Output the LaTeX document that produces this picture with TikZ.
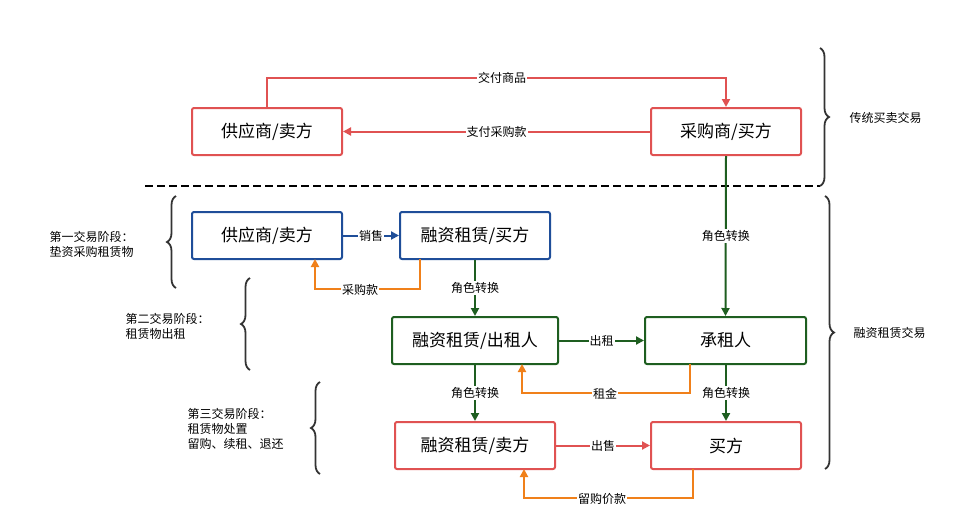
\documentclass[tikz,border=0pt]{standalone}
\usepackage{fontspec}
\setmainfont{Noto Sans CJK SC}
\usetikzlibrary{arrows.meta,decorations.pathreplacing}
\definecolor{cred}{HTML}{E05252}
\definecolor{cblue}{HTML}{1F4E99}
\definecolor{cgreen}{HTML}{1E5E20}
\definecolor{corange}{HTML}{F0801A}
\begin{document}
\begin{tikzpicture}[x=1pt,y=-1pt,
 box/.style={draw=#1,line width=2pt,rounded corners=2pt,minimum height=47pt,font=\fontsize{17}{20}\selectfont,inner sep=0pt},
 lab/.style={fill=white,font=\fontsize{12}{14}\selectfont,inner sep=1pt},
 txt/.style={font=\fontsize{12}{15}\selectfont,align=left,anchor=west},
 arr/.style={draw=#1,line width=2pt,-{Triangle[length=8pt,width=8pt]}},
 br/.style={decorate,decoration={brace,amplitude=9pt},line width=1.8pt,draw=black!80}]
\useasboundingbox (0,0) rectangle (978,531);
\node[box=cred,minimum width=150pt] (s1) at (267,131.5) {供应商/卖方};
\node[box=cred,minimum width=150pt] (b1) at (726,131.5) {采购商/买方};
\draw[arr=cred] (s1.north) -- (267,78) -- (726,78) -- (b1.north);
\node[lab] at (502,78) {交付商品};
\draw[arr=cred] (b1.west) -- node[lab] {支付采购款} (s1.east);
\draw[line width=2pt,dash pattern=on 8pt off 4pt] (145,186) -- (820,186);
\draw[br] (820,48) -- (820,186);
\node[txt] (t0) at (846,118) {传统买卖交易};
\node[box=cblue,minimum width=150pt] (s2) at (267,235.5) {供应商/卖方};
\node[box=cblue,minimum width=150pt] (fb) at (475,235.5) {融资租赁/买方};
\draw[arr=cblue] (s2.east) -- node[lab] {销售} (fb.west);
\draw[arr=corange] (420,259) -- (420,289) -- (315,289) -- (315,259);
\node[lab] at (360,290) {采购款};
\node[box=cgreen,minimum width=166pt] (fl) at (475,340.5) {融资租赁/出租人};
\node[box=cgreen,minimum width=161pt] (le) at (725.5,340.5) {承租人};
\draw[arr=cgreen] (fb.south) -- node[lab] {角色转换} (fl.north);
\draw[arr=cgreen] (b1.south) -- node[lab] {角色转换} (le.north);
\draw[arr=cgreen] (fl.east) -- node[lab] {出租} (le.west);
\draw[arr=corange] (690,364) -- (690,393) -- (522,393) -- (522,364);
\node[lab] at (605,394) {租金};
\node[box=cred,minimum width=160pt] (fs) at (475,445.5) {融资租赁/卖方};
\node[box=cred,minimum width=150pt] (b2) at (726,445.5) {买方};
\draw[arr=cgreen] (fl.south) -- node[lab] {角色转换} (fs.north);
\draw[arr=cgreen] (le.south -| b2.north) -- node[lab] {角色转换} (b2.north);
\draw[arr=cred] (fs.east) -- node[lab] {出售} (b2.west);
\draw[arr=corange] (693,469) -- (693,498) -- (524,498) -- (524,469);
\node[lab] at (602,499) {留购价款};
\draw[br] (825,196) -- (825,469);
\node[txt] at (850,333) {融资租赁交易};
\draw[br] (176,288) -- (176,196);
\node[txt] at (46,244) {第一交易阶段：\\垫资采购租赁物};
\draw[br] (250,370) -- (250,278);
\node[txt] at (122,326) {第二交易阶段：\\租赁物出租};
\draw[br] (320,474) -- (320,382);
\node[txt] at (184,429) {第三交易阶段：\\租赁物处置\\留购、续租、退还};
\end{tikzpicture}
\end{document}
